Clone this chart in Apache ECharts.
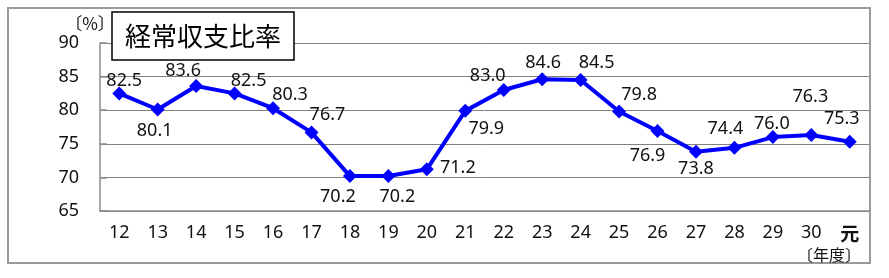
<!DOCTYPE html>
<html><head><meta charset="utf-8">
<script src="https://cdn.jsdelivr.net/npm/echarts@6/dist/echarts.min.js"></script>
<style>html,body{margin:0;padding:0;background:#fff}#c{width:889px;height:278px}</style>
</head><body><div id="c"></div>
<script>
const categories = ['12','13','14','15','16','17','18','19','20','21','22','23','24','25','26','27','28','29','30','元'];
const ratio = [82.5,80.1,83.6,82.5,80.3,76.7,70.2,70.2,71.2,79.9,83.0,84.6,84.5,79.8,76.9,73.8,74.4,76.0,76.3,75.3];
const yTicks = { min: 65, max: 90, step: 5 };
const titleText = '経常収支比率';
const unitText = '〔%〕';
const xUnitText = '〔年度〕';

// label placement offsets (layout only)
const labelOffsets = [[5,-13],[-3,21],[-13,-15],[14,-13],[17,-13],[16,-18],[-12,21],[9,21],[31,-1],[21,18],[-16,-14],[1,-16],[16,-17],[20,-17],[-10,25],[0,17],[-9,-19],[-1,-13],[-1,-38],[-8,-23]];

const chart = echarts.init(document.getElementById('c'), null, {renderer:'canvas'});
const catData = categories.map(c => c === '元'
  ? { value: c, textStyle: { fontFamily: 'Noto Sans CJK JP', fontWeight: 'bold', fontSize: 19 } }
  : c);
const seriesData = ratio.map((v, i) => ({
  value: v,
  label: { offset: labelOffsets[i] }
}));
chart.setOption({
  animation: false,
  backgroundColor: '#fff',
  grid: { left: 100, right: 20, top: 43, bottom: 67 },
  xAxis: {
    type: 'category', data: catData, boundaryGap: true,
    axisLine: { lineStyle: { color: '#8c8c8c', width: 1.5 } },
    axisTick: { inside: true, length: 7, lineStyle: { color: '#8c8c8c', width: 1.5 } },
    axisLabel: { color: '#111', fontSize: 18, fontFamily: 'Noto Sans', margin: 13 }
  },
  yAxis: {
    type: 'value', min: yTicks.min, max: yTicks.max, interval: yTicks.step,
    axisLine: { show: true, lineStyle: { color: '#8c8c8c', width: 1.5 } },
    axisTick: { show: true, inside: true, length: 7, lineStyle: { color: '#8c8c8c', width: 1.5 } },
    splitLine: { lineStyle: { color: '#808080', width: 1 } },
    axisLabel: { color: '#111', fontSize: 18, fontFamily: 'Noto Sans', margin: 21 }
  },
  series: [{
    type: 'line', data: seriesData,
    lineStyle: { color: '#0000ff', width: 4 },
    itemStyle: { color: '#0000ff' },
    symbol: 'diamond', symbolSize: 14,
    label: { show: true, position: 'inside', color: '#111', fontSize: 18, fontFamily: 'Noto Sans',
      formatter: p => p.value.toFixed(1) },
    z: 3
  }],
  graphic: [
    { type: 'rect', shape: { x: 8, y: 8, width: 862, height: 255 }, style: { fill: 'none', stroke: '#9a9a9a', lineWidth: 2 }, z: 10 },
    { type: 'rect', shape: { x: 112, y: 12, width: 182, height: 48 }, style: { fill: '#fff', stroke: '#000', lineWidth: 1.5 }, z: 20 },
    { type: 'text', x: 203, y: 36, style: { text: titleText, fontSize: 26, fontFamily: 'Noto Sans CJK JP', fill: '#000', textAlign: 'center', textVerticalAlign: 'middle' }, z: 21 },
    { type: 'text', x: 90, y: 24, style: { text: unitText, fontSize: 17, fontFamily: 'Noto Sans CJK JP', fill: '#111', textAlign: 'center', textVerticalAlign: 'middle' }, z: 21 },
    { type: 'text', x: 829, y: 255, style: { text: xUnitText, fontSize: 16, fontFamily: 'Noto Sans CJK JP', fill: '#111', textAlign: 'center', textVerticalAlign: 'middle' }, z: 21 }
  ]
});
</script></body></html>
